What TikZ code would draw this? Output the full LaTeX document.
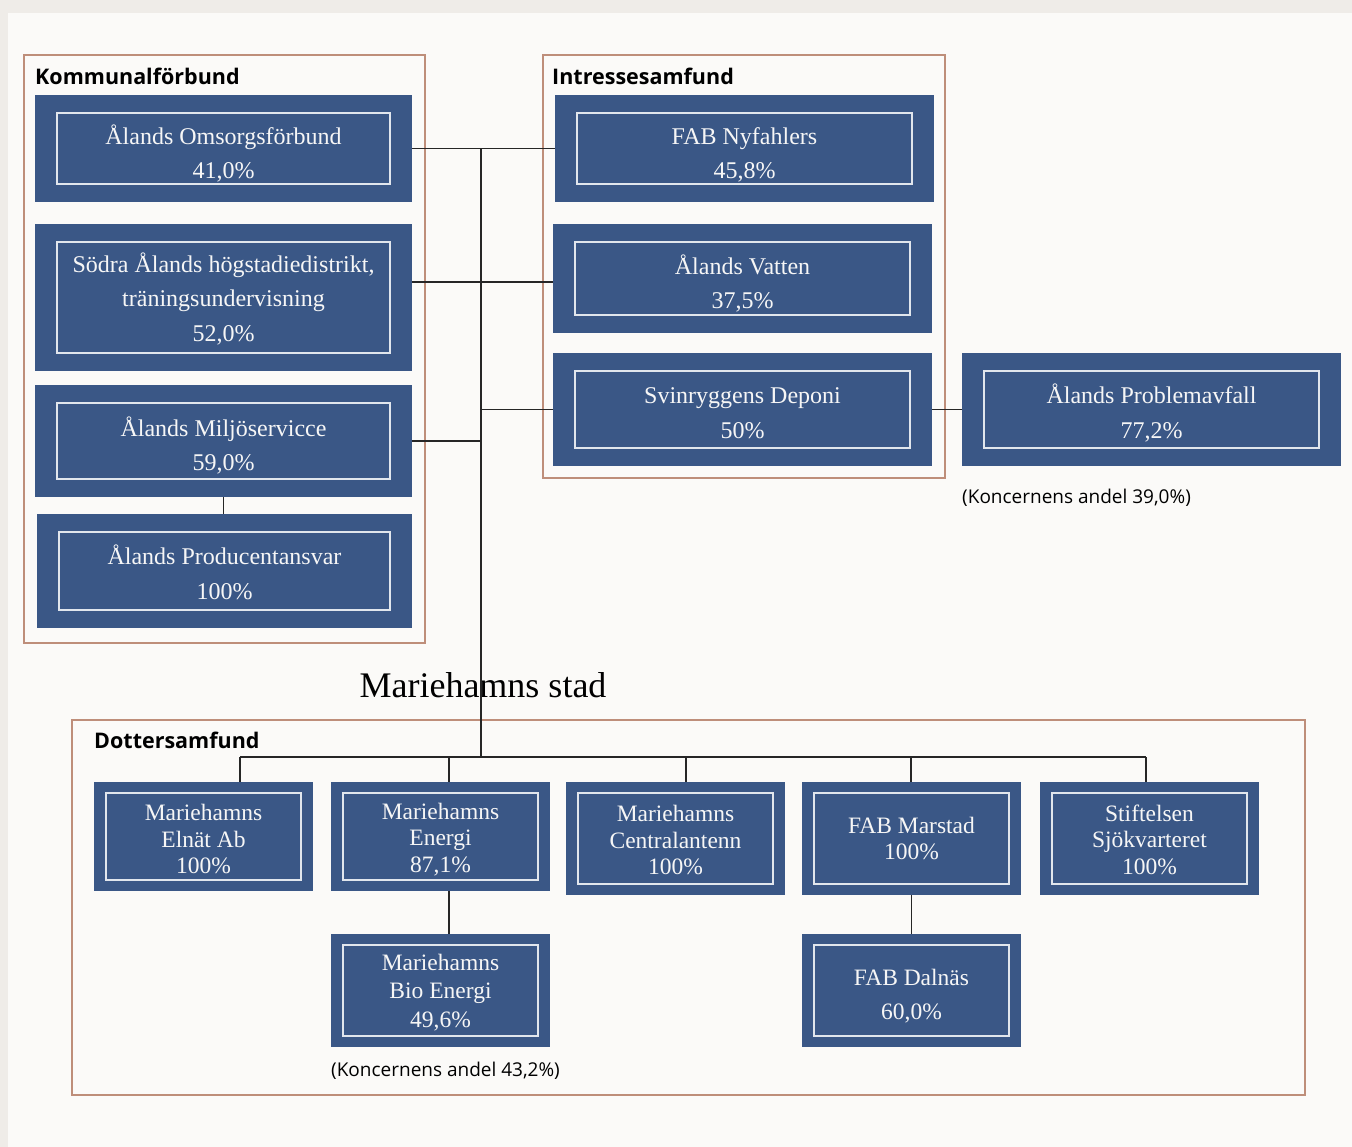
\documentclass[tikz,border=0pt]{standalone}
\usepackage{fontspec}
\setmainfont{Liberation Serif}
\newfontfamily\headfont{Open Sans}
\usetikzlibrary{positioning, calc}

\definecolor{boxblue}{RGB}{58,87,134}
\definecolor{boxtext}{RGB}{246,246,246}
\definecolor{framebrown}{RGB}{190,142,122}
\definecolor{paper}{RGB}{251,250,248}
\definecolor{margin}{RGB}{239,236,232}

\begin{document}
\begin{tikzpicture}[x=1pt, y=-1pt,
    ix/.store in=\insetx, iy/.store in=\insety, ix=22pt, iy=18pt,
    orgbox/.style={fill=boxblue, text=boxtext, align=center, inner sep=0pt,
                   path picture={\draw[white!85!boxblue, line width=1.4pt]
                     ([shift={(\insetx,\insety)}]path picture bounding box.south west) rectangle
                     ([shift={(-\insetx,-\insety)}]path picture bounding box.north east);}},
    topbox/.style={orgbox, minimum width=377pt, ix=22pt, iy=18pt, text height=64pt,
                   font=\fontsize{24}{34.5}\selectfont},
    subbox/.style={orgbox, minimum width=219pt, ix=12pt, iy=11pt, text height=75pt,
                   font=\fontsize{23.5}{26.5}\selectfont},
    grouprect/.style={draw=framebrown, line width=1.5pt},
    title/.style={anchor=west, inner sep=0pt, font=\headfont\bfseries\fontsize{21.5}{24}\selectfont},
    note/.style={anchor=west, inner sep=0pt, font=\headfont\fontsize{19}{22}\selectfont},
    link/.style={draw=black!85, line width=1.5pt}
]

    % Background
    \fill[margin] (0,0) rectangle (1352,1147);
    \fill[paper] (8,13) rectangle (1352,1147);
    \useasboundingbox (0,0) rectangle (1352,1147);

    % Kommunalförbund
    \draw[grouprect] (24,55) rectangle (425,643);
    \node[title] (kommtitle) at (35,76) {Kommunalförbund};
    \node[topbox, minimum height=107pt] (omsorg) at (223.5,148.5) {Ålands Omsorgsförbund\\41,0\%};
    \node[topbox, minimum height=147pt, text height=91pt] (sodra) at (223.5,297.5) {Södra Ålands högstadiedistrikt,\\träningsundervisning\\52,0\%};
    \node[topbox, minimum height=112pt, text height=63pt] (miljo) at (223.5,441) {Ålands Miljöservicce\\59,0\%};
    \node[topbox, minimum width=375pt, minimum height=114pt, text height=57pt] (prod) at (224.5,571) {Ålands Producentansvar\\100\%};

    % Intressesamfund
    \draw[grouprect] (543,55) rectangle (945,478);
    \node[title] (intrtitle) at (552,76) {Intressesamfund};
    \node[topbox, minimum width=379pt, minimum height=107pt] (nyfahlers) at (744.5,148.5) {FAB Nyfahlers\\45,8\%};
    \node[topbox, minimum width=379pt, minimum height=109pt] (vatten) at (742.5,278.5) {Ålands Vatten\\37,5\%};
    \node[topbox, minimum width=379pt, minimum height=113pt, text height=58pt] (svin) at (742.5,409.5) {Svinryggens Deponi\\50\%};
    \node[topbox, minimum width=379pt, minimum height=113pt, text height=61pt] (problem) at (1151.5,409.5) {Ålands Problemavfall\\77,2\%};
    \node[note] (note1) at (962,498) {(Koncernens andel 39,0\%)};

    % Mariehamns stad
    \node[font=\fontsize{36}{40}\selectfont] (stad) at (483,685) {Mariehamns stad};

    % Dottersamfund
    \draw[grouprect] (72,720) rectangle (1305,1095);
    \node[title] (dottitle) at (94,740) {Dottersamfund};
    \node[subbox, minimum height=109pt] (elnat) at (203.5,836.5) {Mariehamns\\Elnät Ab\\100\%};
    \node[subbox, minimum height=109pt] (energi) at (440.5,836.5) {Mariehamns\\Energi\\87,1\%};
    \node[subbox, minimum height=113pt, text height=73pt] (central) at (675.5,838.5) {Mariehamns\\Centralantenn\\100\%};
    \node[subbox, minimum height=113pt, text height=42.5pt] (marstad) at (911.5,838.5) {FAB Marstad\\100\%};
    \node[subbox, minimum height=113pt, text height=72pt] (stift) at (1149.5,838.5) {Stiftelsen\\Sjökvarteret\\100\%};
    \node[subbox, minimum height=113pt, text height=77pt, font=\fontsize{23.5}{28.5}\selectfont] (bio) at (440.5,990.5) {Mariehamns\\Bio Energi\\49,6\%};
    \node[subbox, minimum height=113pt, text height=62pt, font=\fontsize{23.5}{34}\selectfont] (dalnas) at (911.5,990.5) {FAB Dalnäs\\60,0\%};
    \node[note] (note2) at (331,1071) {(Koncernens andel 43,2\%)};

    % Connectors - owners
    \coordinate (bus) at (481,757);
    \draw[link] (omsorg.east -| bus) -- (bus);
    \draw[link] (omsorg.east) -- (nyfahlers.west);
    \draw[link] ([yshift=-3.5pt]vatten.west -| sodra.east) -- ([yshift=-3.5pt]vatten.west);
    \draw[link] (miljo.east) -- (miljo.east -| bus);
    \draw[link] (svin.west -| bus) -- (svin.west);
    \draw[link] (svin.east) -- (problem.west);
    \draw[link] (prod.north -| miljo.south) -- (miljo.south);

    % Connectors - subsidiaries
    \draw[link] ([xshift=36.5pt]elnat.north |- bus) -- ([xshift=-3.5pt]stift.north |- bus);
    \foreach \n/\dx in {elnat/36.5, energi/8.5, central/10.5, marstad/-0.5, stift/-3.5}
        \draw[link] ([xshift=\dx pt]\n.north) -- ([xshift=\dx pt]\n.north |- bus);
    \draw[link] ([xshift=8.5pt]energi.south) -- ([xshift=8.5pt]bio.north);
    \draw[link] (marstad.south) -- (dalnas.north);

\end{tikzpicture}
\end{document}
